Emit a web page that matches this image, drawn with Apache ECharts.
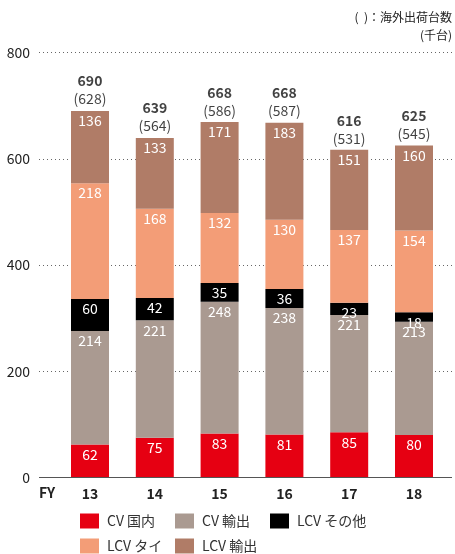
<!DOCTYPE html>
<html><head><meta charset="utf-8">
<script src="https://cdn.jsdelivr.net/npm/echarts@6/dist/echarts.min.js"></script>
<style>html,body{margin:0;padding:0;background:#fff}#c{width:455px;height:554px}</style>
</head><body><div id="c"></div>
<script>
var categories = ['13','14','15','16','17','18'];
var cvDomestic = [62, 75, 83, 81, 85, 80];
var cvExport = [214, 221, 248, 238, 221, 213];
var lcvOther = [60, 42, 35, 36, 23, 18];
var lcvThai = [218, 168, 132, 130, 137, 154];
var lcvExport = [136, 133, 171, 183, 151, 160];
var totals = [690, 639, 668, 668, 616, 625];
var overseas = [628, 564, 586, 587, 531, 545];
var yTicks = [0, 200, 400, 600, 800];

var FONT = '"Noto Sans CJK JP", "Noto Sans", sans-serif';
var chart = echarts.init(document.getElementById('c'), null, {renderer: 'canvas'});

function seg(name, data, color) {
  return {
    name: name, type: 'bar', stack: 'all', data: data,
    xAxisIndex: 1, yAxisIndex: 1, barWidth: 38,
    itemStyle: {color: color},
    label: {show: true, position: 'insideTop', distance: 3, color: '#fff', fontSize: 14, fontFamily: FONT},
    emphasis: {disabled: true}
  };
}
function leg(name, left, top) {
  return {left: left, top: top, itemWidth: 19, itemHeight: 15, itemGap: 0, icon: 'rect',
    padding: 0, data: [name], selectedMode: false,
    textStyle: {fontSize: 14, color: '#333', fontFamily: FONT, padding: [0, 0, 0, 3], lineHeight: 16}};
}

var option = {
  animation: false,
  textStyle: {fontFamily: FONT},
  grid: [
    {left: 39, right: 3, top: 52.5, bottom: 76.5},
    {left: 57.6, right: 8.6, top: 52.5, bottom: 76.5}
  ],
  xAxis: [
    {type: 'category', gridIndex: 0, data: [''], show: false},
    {type: 'category', gridIndex: 1, data: categories,
     axisLine: {show: false}, axisTick: {show: false},
     axisLabel: {color: '#222', fontWeight: 'bold', fontSize: 14, margin: 9, fontFamily: FONT}}
  ],
  yAxis: [
    {type: 'value', gridIndex: 0, min: 0, max: 800, interval: 200,
     axisLine: {show: false}, axisTick: {show: false},
     axisLabel: {color: '#222', fontSize: 14, margin: 9, fontFamily: FONT,
       formatter: function (v) { return yTicks.indexOf(v) >= 0 ? String(v) : ''; }},
     splitLine: {lineStyle: {type: [1, 3], color: '#666', width: 1}}},
    {type: 'value', gridIndex: 1, min: 0, max: 800, interval: 200, show: false, splitLine: {show: false}}
  ],
  legend: [
    leg('CV 国内', 80, 513),
    leg('CV 輸出', 175, 513),
    leg('LCV その他', 270, 513),
    leg('LCV タイ', 80, 538),
    leg('LCV 輸出', 175, 538)
  ],
  graphic: [
    {type: 'text', right: 3, top: 11, style: {text: '(  )：海外出荷台数', fill: '#222', font: '12px ' + FONT}},
    {type: 'text', right: 3, top: 29, style: {text: '(千台)', fill: '#222', font: '12px ' + FONT}},
    {type: 'line', shape: {x1: 39, y1: 477.5, x2: 452, y2: 477.5}, style: {stroke: '#555', lineWidth: 1}, z: 10},
    {type: 'text', left: 39, top: 486, style: {text: 'FY', fill: '#222', font: 'bold 14px ' + FONT}}
  ],
  series: [
    seg('CV 国内', cvDomestic, '#e60012'),
    seg('CV 輸出', cvExport, '#aa9a91'),
    seg('LCV その他', lcvOther, '#000000'),
    seg('LCV タイ', lcvThai, '#f39d77'),
    seg('LCV 輸出', lcvExport, '#b07c67'),
    {type: 'scatter', xAxisIndex: 1, yAxisIndex: 1, data: totals, symbolSize: 0,
     silent: true, z: 5,
     label: {show: true, position: 'top', distance: 3,
       formatter: function (p) { return '{a|' + totals[p.dataIndex] + '}\n{b|(' + overseas[p.dataIndex] + ')}'; },
       rich: {
         a: {fontWeight: 'bold', fontSize: 14, color: '#111', lineHeight: 18, fontFamily: FONT, align: 'center'},
         b: {fontSize: 14, color: '#111', lineHeight: 18, fontFamily: FONT, align: 'center'}
       }}}
  ]
};
chart.setOption(option);
</script></body></html>
